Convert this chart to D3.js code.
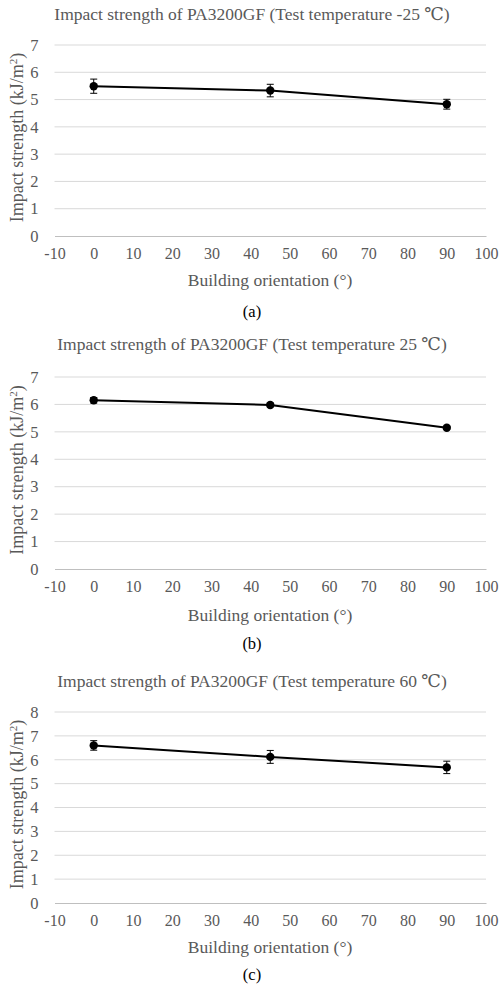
<!DOCTYPE html>
<html>
<head>
<meta charset="utf-8">
<script src="https://cdn.jsdelivr.net/npm/d3@7"></script>
<style>
  body { margin: 0; background: #fff; }
  svg { display: block; }
  svg text { font-family: "Liberation Serif", "DejaVu Serif", serif; }
</style>
</head>
<body>
<svg id="chart" width="500" height="984"></svg>
<script>
// building orientation (deg)
const orientations = [0, 45, 90];
const xTicks = [-10, 0, 10, 20, 30, 40, 50, 60, 70, 80, 90, 100];

// impact strength (kJ/m2) with error (+/-)
const strengthMinus25 = [5.49, 5.33, 4.83];
const errorMinus25 = [0.26, 0.23, 0.18];
const strength25 = [6.15, 5.98, 5.15];
const error25 = [0.1, 0.07, 0.05];
const strength60 = [6.6, 6.12, 5.68];
const error60 = [0.2, 0.27, 0.26];

const panelTitles = [
  "Impact strength of PA3200GF (Test temperature -25 \u2103)",
  "Impact strength of PA3200GF (Test temperature 25 \u2103)",
  "Impact strength of PA3200GF (Test temperature 60 \u2103)"
];
const panelLabels = ["(a)", "(b)", "(c)"];
const yMaxes = [7, 7, 8];

const panels = [
  { values: strengthMinus25, errors: errorMinus25, top: 45, bottom: 236, title: 16, xt: 282, lab: 313 },
  { values: strength25, errors: error25, top: 377, bottom: 569, title: 346, xt: 617, lab: 645 },
  { values: strength60, errors: error60, top: 712, bottom: 903, title: 683, xt: 949, lab: 976 }
];

const svg = d3.select("#chart");
const grey = "#595959";
const left = 54.5, right = 486;

panels.forEach((p, i) => {
  const g = svg.append("g");
  const x = d3.scaleLinear().domain([-10, 100]).range([left, right]);
  const y = d3.scaleLinear().domain([0, yMaxes[i]]).range([p.bottom, p.top]);

  // gridlines
  g.selectAll(".grid").data(d3.range(1, yMaxes[i] + 1)).join("line")
    .attr("x1", left).attr("x2", right)
    .attr("y1", d => y(d)).attr("y2", d => y(d))
    .attr("stroke", "#d9d9d9").attr("stroke-width", 1);

  // y axis labels (no line)
  const yAxis = g.append("g")
    .attr("transform", `translate(${left},0)`)
    .call(d3.axisLeft(y).ticks(yMaxes[i]).tickSize(0).tickPadding(16).tickFormat(d3.format("d")));
  yAxis.select(".domain").remove();
  yAxis.selectAll("text").attr("font-size", 16.5).attr("fill", grey);

  // x axis
  const xAxis = g.append("g")
    .attr("transform", `translate(0,${p.bottom})`)
    .call(d3.axisBottom(x).tickValues(xTicks).tickSize(0).tickPadding(12).tickFormat(d => String(d)));
  xAxis.select(".domain").attr("stroke", "#bfbfbf").attr("stroke-width", 1);
  xAxis.selectAll("text").attr("font-size", 16).attr("fill", grey);

  // titles
  g.append("text")
    .attr("x", 252).attr("y", p.title)
    .attr("dominant-baseline", "middle")
    .attr("text-anchor", "middle")
    .attr("font-size", 17.5).attr("fill", grey)
    .text(panelTitles[i]);

  g.append("text")
    .attr("x", 270).attr("y", p.xt)
    .attr("dominant-baseline", "middle")
    .attr("text-anchor", "middle")
    .attr("font-size", 17.5).attr("fill", grey)
    .text("Building orientation (\u00b0)");

  const yl = g.append("text")
    .attr("transform", `translate(23,${(p.top + p.bottom) / 2 - 3}) rotate(-90)`)
    .attr("text-anchor", "middle")
    .attr("font-size", 18).attr("fill", grey);
  yl.append("tspan").text("Impact strength (kJ/m");
  yl.append("tspan").attr("baseline-shift", "super").attr("font-size", 11).text("2");
  yl.append("tspan").text(")");

  g.append("text")
    .attr("x", 252).attr("y", p.lab)
    .attr("dominant-baseline", "middle")
    .attr("text-anchor", "middle")
    .attr("font-size", 16.5).attr("fill", "#000")
    .text(panelLabels[i]);

  const pts = orientations.map((o, k) => ({ o, v: p.values[k], e: p.errors[k] }));

  // error bars
  const eb = g.selectAll(".eb").data(pts).join("g");
  eb.append("line")
    .attr("x1", d => x(d.o)).attr("x2", d => x(d.o))
    .attr("y1", d => y(d.v - d.e)).attr("y2", d => y(d.v + d.e))
    .attr("stroke", "#000").attr("stroke-width", 1);
  [1, -1].forEach(s => {
    eb.append("line")
      .attr("x1", d => x(d.o) - 3.5).attr("x2", d => x(d.o) + 3.5)
      .attr("y1", d => y(d.v + s * d.e)).attr("y2", d => y(d.v + s * d.e))
      .attr("stroke", "#000").attr("stroke-width", 1);
  });

  // line
  g.append("path").datum(pts)
    .attr("fill", "none").attr("stroke", "#000").attr("stroke-width", 2)
    .attr("d", d3.line().x(d => x(d.o)).y(d => y(d.v)));

  g.selectAll(".pt").data(pts).join("circle")
    .attr("cx", d => x(d.o)).attr("cy", d => y(d.v)).attr("r", 4.2)
    .attr("fill", "#000");
});
</script>
</body>
</html>
